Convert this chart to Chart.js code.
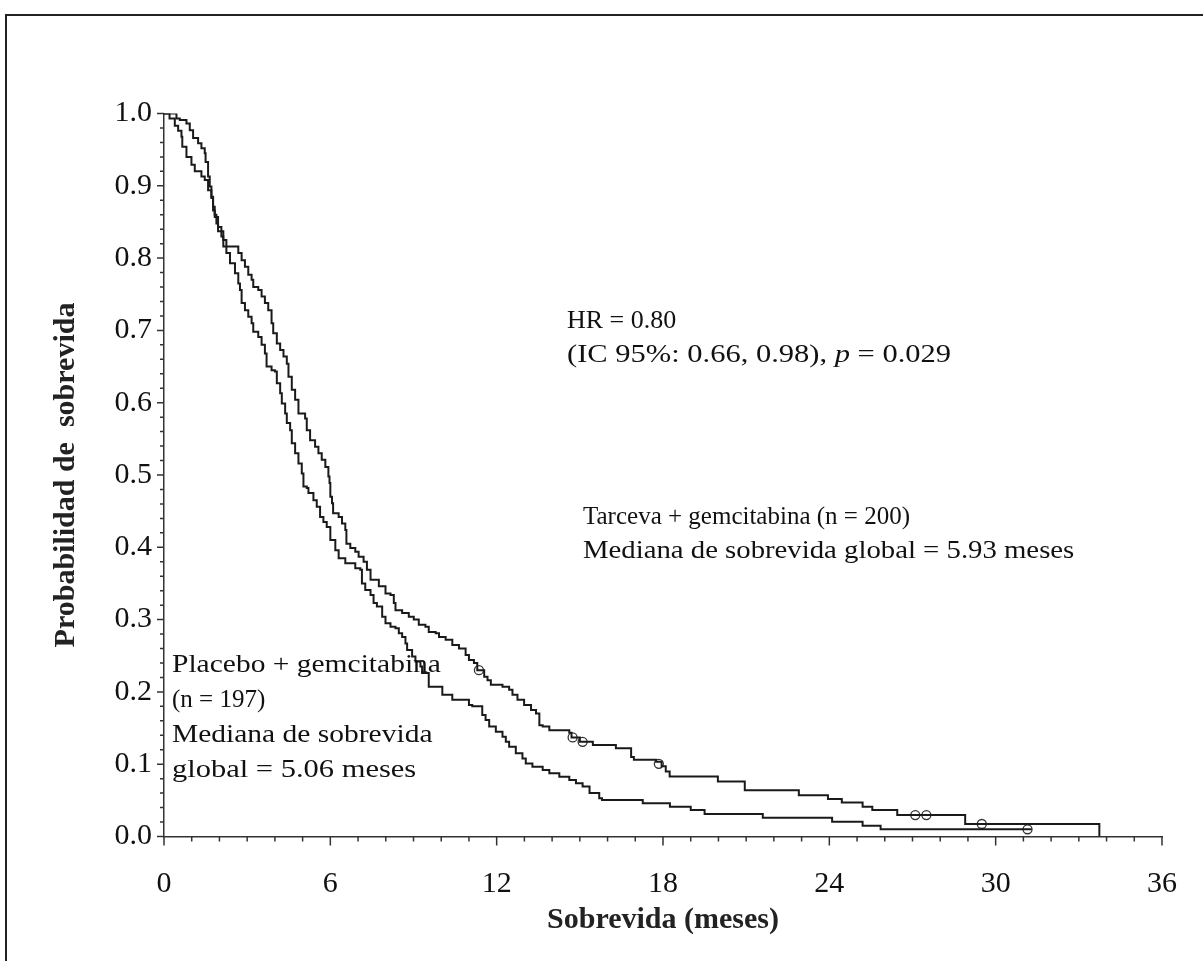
<!DOCTYPE html>
<html lang="es">
<head>
<meta charset="utf-8">
<title>Sobrevida global - Tarceva + gemcitabina</title>
<script src="https://cdn.jsdelivr.net/npm/chart.js@4.4.1/dist/chart.umd.min.js"></script>
<style>
    html, body { margin: 0; padding: 0; background: #fff; overflow: hidden; }
    #marco {
        position: absolute; left: 5px; top: 14px; width: 1400px; height: 1100px;
        border-top: 2px solid #222; border-left: 2px solid #222;
    }
    #contenedor { position: absolute; left: 0; top: 0; width: 1203px; height: 961px; }
    .nota {
        position: absolute; font-family: "Liberation Serif", "DejaVu Serif", serif;
        font-size: 25px; color: #111; white-space: nowrap; z-index: 2;
    }
    .nota div { height: 34px; line-height: 34px; transform-origin: 0 50%; }
    .placebo div { height: 35px; line-height: 35px; }
</style>
</head>
<body>
<div id="marco"></div>
<div id="contenedor"><canvas id="grafico-km"></canvas></div>

<div class="nota" style="left:567px; top:303px;">
    <div style="transform:scaleX(1.04);">HR = 0.80</div>
    <div style="transform:scaleX(1.22);">(IC 95%: 0.66, 0.98), <i>p</i> = 0.029</div>
</div>
<div class="nota" style="left:583px; top:499px;">
    <div>Tarceva + gemcitabina (n = 200)</div>
    <div style="transform:scaleX(1.15);">Mediana de sobrevida global = 5.93 meses</div>
</div>
<div class="nota placebo" style="left:172px; top:646px;">
    <div style="transform:scaleX(1.18);">Placebo + gemcitabina</div>
    <div>(n = 197)</div>
    <div style="transform:scaleX(1.18);">Mediana de sobrevida</div>
    <div style="transform:scaleX(1.22);">global = 5.06 meses</div>
</div>

<script>
// Curvas de Kaplan-Meier (tiempo en meses, probabilidad)
const tarcevaTiempo = [0, 0.45, 0.57, 0.81, 0.93, 1.05, 1.23, 1.35, 1.47, 1.50, 1.59, 1.65, 1.71, 1.77, 1.83, 1.95, 2.07, 2.14,
    2.68, 2.80, 2.92, 3.04, 3.16, 3.22, 3.40, 3.52, 3.64, 3.76, 3.88, 3.94, 4.07, 4.19, 4.31, 4.43, 4.49, 4.61, 4.73, 4.85,
    5.09, 5.15, 5.27, 5.45, 5.57, 5.69, 5.82, 5.93, 5.97, 6.00, 6.06, 6.10, 6.30, 6.42, 6.54, 6.58, 6.72, 6.90, 7.02, 7.20,
    7.32, 7.45, 7.75, 7.99, 8.17, 8.29, 8.35, 8.59, 8.83, 9.01, 9.19, 9.43, 9.55, 9.80, 9.92, 10.16, 10.40, 10.64, 10.88,
    11.00, 11.18, 11.30, 11.55, 11.67, 11.79, 12.21, 12.45, 12.57, 12.75, 12.99, 13.24, 13.42, 13.54, 13.66, 13.90, 14.62,
    14.70, 15.00, 15.47, 16.30, 16.85, 16.95, 17.75, 17.95, 18.10, 18.24, 19.98, 20.95, 22.90, 23.95, 24.45, 25.20, 25.55,
    26.45, 28.90, 33.74];
const tarcevaSobrevida = [1.0, 0.993, 0.991, 0.986, 0.977, 0.966, 0.959, 0.952, 0.945, 0.933, 0.913, 0.899, 0.885, 0.866, 0.857, 0.843, 0.830, 0.816,
    0.807, 0.797, 0.788, 0.777, 0.770, 0.760, 0.756, 0.747, 0.738, 0.728, 0.710, 0.696, 0.682, 0.673, 0.664, 0.654, 0.636, 0.618, 0.604, 0.585,
    0.578, 0.562, 0.548, 0.539, 0.530, 0.521, 0.511, 0.498, 0.489, 0.470, 0.461, 0.447, 0.442, 0.433, 0.424, 0.405, 0.399, 0.394, 0.387, 0.380,
    0.369, 0.355, 0.346, 0.336, 0.334, 0.323, 0.313, 0.309, 0.304, 0.300, 0.293, 0.290, 0.283, 0.281, 0.276, 0.272, 0.265, 0.260, 0.251,
    0.244, 0.240, 0.230, 0.221, 0.216, 0.210, 0.207, 0.203, 0.196, 0.189, 0.182, 0.175, 0.170, 0.154, 0.152, 0.147, 0.1435,
    0.137, 0.131, 0.1265, 0.122, 0.110, 0.106, 0.1035, 0.097, 0.090, 0.083, 0.076, 0.064, 0.057, 0.052, 0.047, 0.041, 0.0367,
    0.0297, 0.0173, 0.0];

const placeboTiempo = [0, 0.20, 0.39, 0.51, 0.63, 0.66, 0.81, 0.99, 1.11, 1.35, 1.47, 1.59, 1.71, 1.77, 1.83, 1.89, 1.95, 2.14,
    2.25, 2.38, 2.56, 2.68, 2.74, 2.80, 2.92, 3.04, 3.16, 3.22, 3.40, 3.52, 3.64, 3.70, 3.88, 4.00, 4.07, 4.19, 4.25, 4.37,
    4.43, 4.55, 4.61, 4.73, 4.85, 4.97, 5.03, 5.15, 5.21, 5.39, 5.51, 5.63, 5.75, 5.87, 6.00, 6.18, 6.30, 6.54, 6.90, 7.08,
    7.14, 7.26, 7.45, 7.56, 7.68, 7.87, 7.99, 8.17, 8.35, 8.47, 8.59, 8.71, 8.77, 8.95, 9.07, 9.25, 9.31, 9.55, 10.04, 10.40,
    11.00, 11.12, 11.48, 11.60, 11.73, 11.97, 12.21, 12.33, 12.45, 12.69, 12.93, 13.05, 13.29, 13.66, 13.90, 14.26, 14.62,
    14.86, 15.10, 15.35, 15.70, 15.80, 17.27, 18.25, 19.00, 19.50, 21.60, 24.10, 25.20, 25.85, 31.30];
const placeboSobrevida = [1.0, 0.993, 0.983, 0.976, 0.968, 0.954, 0.940, 0.929, 0.920, 0.913, 0.908, 0.894, 0.883, 0.871, 0.860, 0.848, 0.837, 0.825,
    0.807, 0.793, 0.779, 0.765, 0.756, 0.738, 0.728, 0.719, 0.710, 0.698, 0.691, 0.680, 0.668, 0.650, 0.645, 0.643, 0.627, 0.613, 0.599, 0.585,
    0.572, 0.562, 0.544, 0.530, 0.516, 0.502, 0.484, 0.482, 0.475, 0.465, 0.456, 0.442, 0.435, 0.428, 0.410, 0.396, 0.385, 0.378, 0.371, 0.369,
    0.350, 0.341, 0.334, 0.323, 0.318, 0.304, 0.295, 0.290, 0.288, 0.281, 0.276, 0.267, 0.258, 0.249, 0.242, 0.235, 0.226, 0.207, 0.196, 0.189,
    0.182, 0.180, 0.168, 0.161, 0.152, 0.145, 0.138, 0.131, 0.124, 0.115, 0.108, 0.101, 0.0965, 0.092, 0.0874, 0.0827, 0.078,
    0.0736, 0.069, 0.060, 0.0528, 0.0505, 0.046, 0.041, 0.0367, 0.031, 0.026, 0.0205, 0.015, 0.010, 0.010];

// Observaciones censuradas (circulos)
const tarcevaCensuraTiempo = [11.36, 14.74, 15.10, 17.85, 27.10, 27.50, 29.50];
const tarcevaCensuraSobrevida = [0.230, 0.137, 0.131, 0.1005, 0.0297, 0.0297, 0.0173];
const placeboCensuraTiempo = [31.15];
const placeboCensuraSobrevida = [0.010];

// Ejes
const ticksMeses = [0, 6, 12, 18, 24, 30, 36];
const ticksProbabilidad = [0.0, 0.1, 0.2, 0.3, 0.4, 0.5, 0.6, 0.7, 0.8, 0.9, 1.0];
const tituloX = 'Sobrevida (meses)';
const tituloY = 'Probabilidad de  sobrevida';

const fuenteSerif = '"Liberation Serif", "DejaVu Serif", serif';

function aPuntos(xs, ys) {
    return xs.map((x, i) => ({ x: x, y: ys[i] }));
}

// Marcas menores de los ejes, dibujadas con las escalas de Chart.js
const marcasEjes = {
    id: 'marcasEjes',
    afterDraw(chart) {
        const ctx = chart.ctx;
        const xs = chart.scales.x;
        const ys = chart.scales.y;
        const area = chart.chartArea;
        ctx.save();
        ctx.strokeStyle = '#333';
        ctx.lineWidth = 1.5;
        ctx.beginPath();
        for (let m = 0; m <= 36; m++) {
            const px = xs.getPixelForValue(m);
            const largo = ticksMeses.includes(m) ? 9 : 5;
            ctx.moveTo(px, area.bottom);
            ctx.lineTo(px, area.bottom + largo);
        }
        for (let k = 0; k <= 50; k++) {
            const v = k / 50;
            const py = ys.getPixelForValue(v);
            const largo = k % 5 === 0 ? 7 : 4;
            ctx.moveTo(area.left, py);
            ctx.lineTo(area.left - largo, py);
        }
        ctx.stroke();
        ctx.restore();
    }
};

const ctx = document.getElementById('grafico-km').getContext('2d');
new Chart(ctx, {
    type: 'line',
    data: {
        datasets: [
            {
                label: 'Tarceva + gemcitabina',
                data: aPuntos(tarcevaTiempo, tarcevaSobrevida),
                stepped: 'before',
                borderColor: '#1a1a1a',
                borderWidth: 2,
                pointRadius: 0,
                fill: false
            },
            {
                label: 'Placebo + gemcitabina',
                data: aPuntos(placeboTiempo, placeboSobrevida),
                stepped: 'before',
                borderColor: '#1a1a1a',
                borderWidth: 2,
                pointRadius: 0,
                fill: false
            },
            {
                label: 'Censura Tarceva',
                type: 'scatter',
                data: aPuntos(tarcevaCensuraTiempo, tarcevaCensuraSobrevida),
                showLine: false,
                pointRadius: 4.5,
                pointBorderWidth: 1.3,
                pointBorderColor: '#333',
                pointBackgroundColor: 'rgba(0,0,0,0)'
            },
            {
                label: 'Censura Placebo',
                type: 'scatter',
                data: aPuntos(placeboCensuraTiempo, placeboCensuraSobrevida),
                showLine: false,
                pointRadius: 4.5,
                pointBorderWidth: 1.3,
                pointBorderColor: '#333',
                pointBackgroundColor: 'rgba(0,0,0,0)'
            }
        ]
    },
    options: {
        responsive: true,
        maintainAspectRatio: false,
        animation: false,
        layout: { padding: { left: 0, top: 113.5, right: 41, bottom: 0 } },
        plugins: {
            legend: { display: false },
            tooltip: { enabled: false }
        },
        scales: {
            x: {
                type: 'linear',
                min: 0,
                max: 36,
                afterFit(scale) {
                    scale.height = 124.5;
                    scale.paddingLeft = 0;
                    scale.paddingRight = 0;
                },
                afterBuildTicks(scale) { scale.ticks = ticksMeses.map(v => ({ value: v })); },
                ticks: {
                    autoSkip: false,
                    maxRotation: 0,
                    padding: 30,
                    color: '#111',
                    font: { family: fuenteSerif, size: 30 },
                    callback: v => String(v)
                },
                grid: { display: false, drawTicks: false },
                border: { display: true, color: '#333', width: 1.5 },
                title: {
                    display: true,
                    text: tituloX,
                    color: '#222',
                    font: { family: fuenteSerif, size: 30, weight: 'bold' },
                    padding: { top: 0, bottom: 23 }
                }
            },
            y: {
                type: 'linear',
                min: 0,
                max: 1,
                afterFit(scale) {
                    scale.width = 164;
                    scale.paddingTop = 0;
                    scale.paddingBottom = 0;
                },
                afterBuildTicks(scale) { scale.ticks = ticksProbabilidad.map(v => ({ value: v })); },
                ticks: {
                    autoSkip: false,
                    padding: 12,
                    color: '#111',
                    font: { family: fuenteSerif, size: 30 },
                    callback: v => Number(v).toFixed(1)
                },
                grid: { display: false, drawTicks: false },
                border: { display: true, color: '#333', width: 1.5 },
                title: {
                    display: true,
                    text: tituloY,
                    color: '#222',
                    font: { family: fuenteSerif, size: 30, weight: 'bold' },
                    padding: { top: 48, bottom: 0 }
                }
            }
        }
    },
    plugins: [marcasEjes]
});
</script>
</body>
</html>
